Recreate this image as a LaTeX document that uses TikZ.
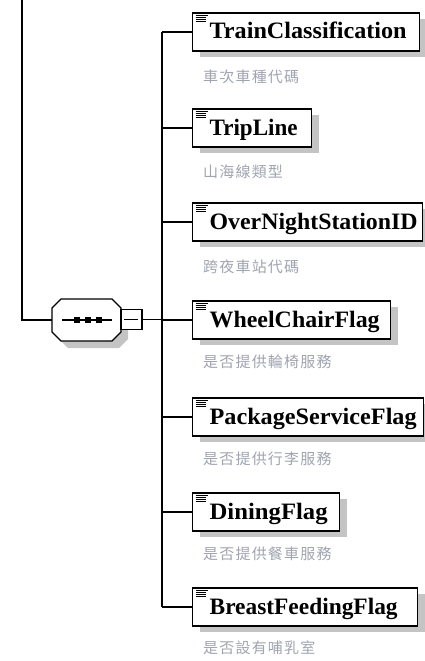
\documentclass[tikz,border=0pt]{standalone}
\usepackage{fontspec}
\usepackage{graphicx}
\setmainfont{Liberation Serif}
\newfontfamily\cjk[LetterSpace=8]{Noto Sans CJK TC}
\usetikzlibrary{shadows}
\definecolor{shadowgray}{RGB}{196,196,196}
\definecolor{annogray}{RGB}{160,164,176}
\hfuzz=50pt
\hbadness=10000
\tikzset{
  elbox/.style={draw, line width=1.3pt, fill=white, anchor=west,
    minimum height=38pt, inner xsep=17pt, inner ysep=0pt, align=left,
    text height=18pt, text depth=4pt,
    font=\fontsize{23.5}{25}\selectfont\bfseries,
    general shadow={fill=shadowgray, shadow xshift=7pt, shadow yshift=-6pt}},
  anno/.style={anchor=west, inner sep=0pt, text=annogray,
    font=\fontsize{15}{16}\selectfont\cjk},
  wire/.style={line width=1.2pt},
  iconline/.style={line width=1pt},
}
% element name stretched to its set width
\newcommand\elname[2]{\resizebox{#1}{\height}{#2}}
% documentation marker in the top-left corner of an element box
\newcommand\docmark[1]{%
  \draw[iconline] ([shift={(4,2.7)}]#1.north west) -- ++(12,0);
  \draw[iconline] ([shift={(4,5)}]#1.north west) -- ++(10,0);
  \draw[iconline] ([shift={(4,7.3)}]#1.north west) -- ++(10,0);
  \draw[iconline] ([shift={(4,9.6)}]#1.north west) -- ++(10,0);
}
\begin{document}
\begin{tikzpicture}[x=1pt, y=-1pt]
\useasboundingbox (0,0) rectangle (424,661);

% sequence compositor
\node[minimum width=69pt, minimum height=42pt, inner sep=0pt] (seq) at (86.5,320) {};
\begin{scope}[shift={(seq.center)}]
  \fill[shadowgray, shift={(7,7)}] (-34.5,-12) -- (-25.5,-21) -- (25.5,-21) -- (34.5,-12)
    -- (34.5,12) -- (25.5,21) -- (-25.5,21) -- (-34.5,12) -- cycle;
  \draw[wire, fill=white] (-34.5,-12) -- (-25.5,-21) -- (25.5,-21) -- (34.5,-12)
    -- (34.5,12) -- (25.5,21) -- (-25.5,21) -- (-34.5,12) -- cycle;
  \draw[wire] (-24.5,0) -- (25.5,0);
  \foreach \dx in {-9.5,1.5,12.5}
    \fill (\dx,0) +(-2.8,-2.8) rectangle +(2.8,2.8);
\end{scope}
\node[draw, line width=1.2pt, fill=white, minimum width=21pt, minimum height=20pt,
  inner sep=0pt] (mb) at (131.5,319.5) {};
\draw[wire] ([xshift=-7.5pt]mb.center) -- ([xshift=6.5pt]mb.center);

% element boxes
\node[elbox, text width=193pt] (tc) at (192,32)  {\elname{197pt}{TrainClassification}};
\node[elbox, text width=85pt]  (tl) at (192,128) {\elname{88pt}{TripLine}};
\node[elbox, text width=196pt] (on) at (192,222) {\elname{208pt}{OverNightStationID}};
\node[elbox, text width=164pt] (wc) at (192,320) {\elname{170pt}{WheelChairFlag}};
\node[elbox, text width=197pt] (ps) at (192,417) {\elname{207pt}{PackageServiceFlag}};
\node[elbox, text width=113pt] (df) at (192,512) {\elname{118pt}{DiningFlag}};
\node[elbox, text width=191pt] (bf) at (192,607) {\elname{188pt}{BreastFeedingFlag}};
\foreach \n in {tc,tl,on,wc,ps,df,bf} {\docmark{\n}}

% annotations
\node[anno] (tcd) at (203,77)  {車次車種代碼};
\node[anno] (tld) at (203,172) {山海線類型};
\node[anno] (ond) at (203,267) {跨夜車站代碼};
\node[anno] (wcd) at (203,362) {是否提供輪椅服務};
\node[anno] (psd) at (203,459) {是否提供行李服務};
\node[anno] (dfd) at (203,554) {是否提供餐車服務};
\node[anno] (bfd) at (203,648) {是否設有哺乳室};

% connectors
\coordinate (intop) at (22,0);
\coordinate (trunktop) at (162,32);
\coordinate (trunkbot) at (162,607);
\draw[wire] (intop) |- (seq.west);
\draw[wire] (mb.east) -- (mb.east -| trunktop);
\draw[wire] (trunktop) -- (trunkbot);
\foreach \n in {tc,tl,on,wc,ps,df,bf}
  \draw[wire] (\n.west) -- (\n.west -| trunktop);
\end{tikzpicture}
\end{document}
